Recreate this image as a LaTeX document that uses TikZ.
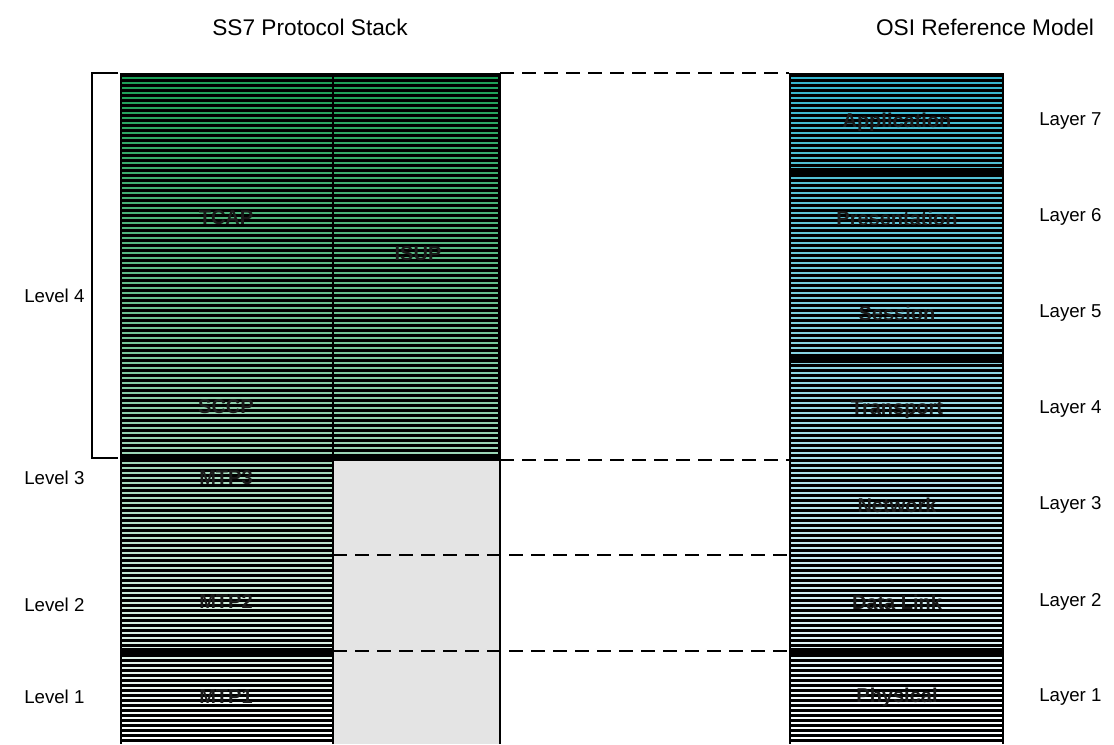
\documentclass[tikz,border=0pt]{standalone}
\usepackage{fontspec}
\setmainfont{Liberation Sans}
\begin{document}
\begin{tikzpicture}[x=0.75pt,y=-0.75pt,
  title/.style={font=\fontsize{17}{20}\selectfont, inner sep=0pt},
  sidelabel/.style={font=\fontsize{14}{17}\selectfont, inner sep=0pt},
  layertext/.style={font=\fontsize{15}{18}\selectfont\bfseries, text=black!90, inner sep=0pt},
  stripe/.style={line width=2.1pt},
  band/.style={line width=4.5pt, black},
  dashline/.style={line width=1.5pt, dash pattern=on 10.5pt off 6pt},
  border/.style={line width=1.2pt, black},
  bracket/.style={line width=1.2pt, black}]
\definecolor{gtop}{RGB}{25,158,85}
\definecolor{ctop}{RGB}{50,180,205}
\definecolor{greybox}{RGB}{228,228,228}
\useasboundingbox (0,0) rectangle (1114,744);

% black bases of the stacks
\fill[black] (120,73) rectangle (500,744);
\fill[black] (789,73) rectangle (1004,744);

% stripes
\foreach \k in {0,...,133} {
  \pgfmathtruncatemacro\pp{100-(5+5*\k)/6.71}
  \draw[stripe, color=gtop!\pp!white] (122,78+5*\k) -- (332,78+5*\k);
  \draw[stripe, color=ctop!\pp!white] (791,78+5*\k) -- (1002,78+5*\k);
}
\foreach \k in {0,...,75} {
  \pgfmathtruncatemacro\pp{100-(5+5*\k)/6.71}
  \draw[stripe, color=gtop!\pp!white] (334,78+5*\k) -- (498,78+5*\k);
}

% grey box under ISUP
\fill[greybox] (334,461) rectangle (499,744);

% named coordinates
\coordinate (stTL) at (120,73);
\coordinate (stTR) at (500,73);
\coordinate (stML) at (120,458);
\coordinate (stMR) at (500,458);
\coordinate (stMid) at (333,73);
\coordinate (stMidB) at (333,744);
\coordinate (stBR) at (500,744);
\coordinate (stL1) at (120,651);
\coordinate (stL1m) at (333,651);
\coordinate (gL3) at (500,460);
\coordinate (gL2) at (333,555);
\coordinate (gL1) at (333,651);
\coordinate (osiTL) at (789,73);
\coordinate (osiL3) at (789,460);
\coordinate (osiL2) at (789,555);
\coordinate (osiL1) at (789,651);
\coordinate (osiR7) at (1004,171);
\coordinate (osiL6) at (789,171);
\coordinate (osiL4) at (789,360);
\coordinate (osiR4) at (1004,360);
\coordinate (osiR1) at (1004,651);
\coordinate (brT) at (92,73);
\coordinate (brB) at (92,458);
\coordinate (brTe) at (118,73);
\coordinate (brBe) at (118,458);

% thick bands
\draw[band] (stML) -- (stMR);
\draw[band] (stL1) -- (stL1m);
\draw[band] (osiL6) -- (osiR7);
\draw[band] (osiL4) -- (osiR4);
\draw[band] (osiL1) -- (osiR1);

% borders
\draw[line width=1.8pt] (stMid) -- (stMidB);
\draw[border] (stTR) -- (stBR);

% dashed connectors
\draw[dashline] (stTR) -- (osiTL);
\draw[dashline] (gL3) -- (osiL3);
\draw[dashline] (gL2) -- (osiL2);
\draw[dashline] (gL1) -- (osiL1);

% bracket
\draw[bracket] (brTe) -- (brT) -- (brB) -- (brBe);

% titles
\node[title] (t1) at (310,27) {SS7 Protocol Stack};
\node[title] (t2) at (985,27) {OSI Reference Model};

% level labels
\node[sidelabel, anchor=west] (lv4) at (24,296) {Level 4};
\node[sidelabel, anchor=west] (lv3) at (24,478) {Level 3};
\node[sidelabel, anchor=west] (lv2) at (24,605) {Level 2};
\node[sidelabel, anchor=west] (lv1) at (24,697) {Level 1};

% layer labels
\node[sidelabel, anchor=west] (ly7) at (1039,121) {Layer 7};
\node[sidelabel, anchor=west] (ly6) at (1039,217) {Layer 6};
\node[sidelabel, anchor=west] (ly5) at (1039,313) {Layer 5};
\node[sidelabel, anchor=west] (ly4) at (1039,409) {Layer 4};
\node[sidelabel, anchor=west] (ly3) at (1039,505) {Layer 3};
\node[sidelabel, anchor=west] (ly2) at (1039,602) {Layer 2};
\node[sidelabel, anchor=west] (ly1) at (1039,697) {Layer 1};

% SS7 layer texts
\node[layertext] (tcap) at (226,218) {TCAP};
\node[layertext] (isup) at (418,254) {ISUP};
\node[layertext] (sccp) at (226,407) {SCCP};
\node[layertext] (mtp3) at (226,478) {MTP3};
\node[layertext] (mtp2) at (226,602) {MTP2};
\node[layertext] (mtp1) at (226,697) {MTP1};

% OSI layer texts
\node[layertext] (app) at (897,122) {Application};
\node[layertext] (pres) at (897,218) {Presentation};
\node[layertext] (sess) at (897,313) {Session};
\node[layertext] (trans) at (897,410) {Transport};
\node[layertext] (netw) at (897,505) {Network};
\node[layertext] (dlink) at (897,602) {Data Link};
\node[layertext] (phys) at (897,697) {Physical};
\end{tikzpicture}
\end{document}
